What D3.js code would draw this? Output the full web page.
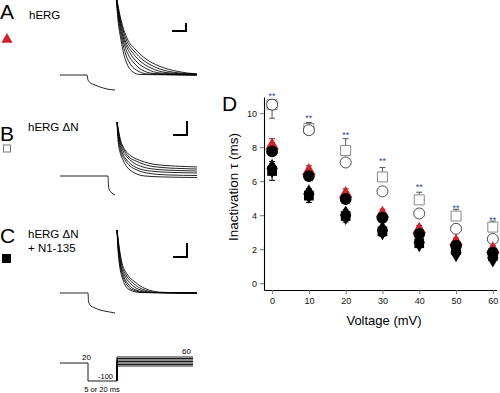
<!DOCTYPE html>
<html>
<head>
<meta charset="utf-8">
<script src="https://cdn.jsdelivr.net/npm/d3@7"></script>
<style>
body { margin: 0; background: #fff; }
svg { display: block; font-family: "Liberation Sans", Arial, sans-serif; }
</style>
</head>
<body>
<div class="graph"></div>
<script>
// ---- panel D: inactivation time constants (ms) vs voltage (mV)
var voltages = [0, 10, 20, 30, 40, 50, 60];
var yTicks = [0, 2, 4, 6, 8, 10];
var hergTri = [8.1, 6.6, 5.25, 4.1, 3.15, 2.45, 2.0];
var hergTriErr = [0.4, 0.3, 0.3, 0.25, 0.25, 0.2, 0.2];
var hergCircle = [7.75, 6.3, 4.95, 3.85, 2.9, 2.2, 1.8];
var dnSquare = [10.5, 9.1, 7.8, 6.25, 4.9, 3.95, 3.3];
var dnSquareErr = [0, 0.35, 0.7, 0.55, 0.45, 0.4, 0.35];
var dnCircle = [10.5, 9.0, 7.1, 5.4, 4.1, 3.2, 2.6];
var dnCircleErr = [0.8, 0, 0, 0, 0, 0, 0];
var n1Square = [6.6, 5.15, 3.95, 3.05, 2.35, 1.95, 1.6];
var n1Err = [0.55, 0.4, 0.35, 0.3, 0.2, 0.2, 0.2];
var n1Diamond = [6.75, 5.25, 4.0, 3.1, 2.4, 1.8, 1.5];
var starLevels = [11.05, 9.75, 8.8, 7.25, 5.7, 4.5, 3.8];

// ---- current traces, [time ms, current nA]
var preA = [[0, 0], [27, 0], [28, -0.5], [30, -0.75], [35, -1.0], [40, -1.2], [47, -1.4], [55, -1.5]];
var decayA = [
  [[56, 8], [58, 5.5], [61, 3.5], [64, 2.0], [68, 0.9], [73, 0.3], [80, 0.05], [137, 0]],
  [[56, 8], [58.5, 5.5], [62, 3.5], [66, 2.0], [71, 1.0], [78, 0.4], [88, 0.1], [137, 0]],
  [[56, 8], [59, 5.5], [63, 3.5], [68, 2.1], [74, 1.2], [82, 0.5], [94, 0.15], [137, 0]],
  [[56, 8], [59.5, 5.5], [64, 3.5], [70, 2.2], [77, 1.3], [87, 0.6], [100, 0.2], [137, 0.05]],
  [[56, 8], [60, 5.5], [65, 3.5], [72, 2.3], [80, 1.4], [91, 0.7], [106, 0.25], [137, 0.05]],
  [[56, 8], [60.5, 5.5], [66, 3.6], [74, 2.4], [83, 1.5], [95, 0.8], [112, 0.3], [137, 0.1]],
  [[56, 8], [61, 5.5], [67, 3.7], [76, 2.5], [86, 1.6], [99, 0.9], [118, 0.35], [137, 0.1]]
];
var preB = [[0, 0], [48, 0], [48.5, -1.0], [49, -1.3], [51, -1.6], [55, -1.9]];
var decayB = [
  [[57, 5.4], [58, 3.6], [60, 2.4], [63, 1.6], [67, 0.9], [73, 0.4], [85, 0], [105, -0.1], [137, -0.15]],
  [[57, 5.4], [58.5, 3.6], [61, 2.4], [65, 1.6], [70, 1.0], [77, 0.6], [90, 0.25], [110, 0.1], [137, 0.05]],
  [[57, 5.4], [59, 3.6], [62, 2.4], [66, 1.7], [72, 1.1], [80, 0.7], [95, 0.45], [115, 0.35], [137, 0.3]],
  [[57, 5.4], [59.5, 3.6], [63, 2.5], [68, 1.8], [74, 1.3], [83, 0.9], [98, 0.65], [118, 0.55], [137, 0.5]],
  [[57, 5.4], [60, 3.6], [64, 2.6], [69, 1.9], [76, 1.5], [86, 1.1], [102, 0.85], [120, 0.75], [137, 0.7]],
  [[57, 5.4], [60.5, 3.6], [65, 2.6], [71, 2.0], [79, 1.6], [90, 1.25], [106, 1.05], [125, 0.95], [137, 0.9]]
];
var preC = [[0, 0], [28, 0], [28.5, -0.8], [30, -1.2], [35, -1.5], [40, -1.7], [47, -1.85], [55, -2.0]];
var decayC = [
  [[57, 6.3], [58, 4.3], [59.5, 2.8], [62, 1.6], [65, 0.8], [70, 0.3], [80, 0.05], [137, 0]],
  [[57, 6.3], [58.3, 4.3], [60, 2.8], [63, 1.6], [67, 0.8], [73, 0.3], [85, 0.05], [137, 0]],
  [[57, 6.3], [58.6, 4.3], [60.5, 2.8], [64, 1.6], [69, 0.8], [76, 0.3], [90, 0.05], [137, 0]],
  [[57, 6.3], [59, 4.3], [61, 2.8], [65, 1.7], [71, 0.9], [79, 0.35], [94, 0.05], [137, 0]],
  [[57, 6.3], [59.3, 4.3], [61.5, 2.9], [66, 1.8], [73, 1.0], [82, 0.4], [98, 0.05], [137, 0]],
  [[57, 6.3], [59.6, 4.3], [62, 3.0], [67, 1.9], [75, 1.1], [85, 0.45], [102, 0.07], [137, 0]]
];

// ---- voltage protocol, [time ms, mV]
var protocolPre = [[0, 20], [28, 20], [28, -100], [57, -100]];
var testSteps = [0, 10, 20, 30, 40, 50, 60];
var protocolEnd = 133;

var width = 500;
var height = 393;

var svg = d3.select(".graph").append("svg")
  .attr("width", width)
  .attr("height", height);

var t = d3.scaleLinear().domain([0, 140]).range([60, 200]);

// one current scale per trace panel (10 px per nA, zero at the holding level)
function currentScale(zeroY) {
  return d3.scaleLinear().domain([0, 1]).range([zeroY, zeroY - 10]);
}
var yA = currentScale(75);
var yB = currentScale(176);
var yC = currentScale(293);

function drawTraces(pre, decays, y) {
  var line = d3.line()
    .x(d => t(d[0]))
    .y(d => y(d[1]))
    .curve(d3.curveMonotoneX);
  svg.append("path")
    .datum(pre)
    .attr("fill", "none")
    .attr("stroke", "#000")
    .attr("stroke-width", 0.85)
    .attr("d", line);
  svg.append("g").selectAll("path")
    .data(decays)
    .enter().append("path")
    .attr("fill", "none")
    .attr("stroke", "#000")
    .attr("stroke-width", 0.85)
    .attr("d", line);
}

function scaleBar(y, tEnd, iBase, ms, nA) {
  svg.append("path")
    .attr("fill", "none")
    .attr("stroke", "#000")
    .attr("stroke-width", 2)
    .attr("d", "M" + t(tEnd - ms) + "," + y(iBase) + "H" + t(tEnd) + "V" + y(iBase + nA));
}

drawTraces(preA, decayA, yA);
drawTraces(preB, decayB, yB);
drawTraces(preC, decayC, yC);

scaleBar(yA, 126, 4.4, 14, 0.8);
scaleBar(yB, 127, 4.1, 14, 1.4);
scaleBar(yC, 127, 3.6, 14, 1.4);

// panel letters and labels
function label(txt, x, y, size) {
  return svg.append("text")
    .attr("x", x)
    .attr("y", y)
    .attr("font-size", size)
    .attr("fill", "#000")
    .text(txt);
}
label("A", 0, 19, 21);
label("B", 0, 141, 21);
label("C", 0, 243, 21);
label("hERG", 29, 19, 11.5);
label("hERG \u0394N", 28, 131, 11.5);
label("hERG \u0394N", 28, 238, 11.5);
label("+ N1-135", 28, 252, 11.5);

svg.append("path")
  .attr("transform", "translate(7,39.5)")
  .attr("d", d3.symbol().type(d3.symbolTriangle).size(55))
  .attr("fill", "#c8262b");
svg.append("rect")
  .attr("x", 3.5).attr("y", 145).attr("width", 7).attr("height", 7)
  .attr("fill", "#fff").attr("stroke", "#777").attr("stroke-width", 1);
svg.append("rect")
  .attr("x", 2).attr("y", 254).attr("width", 9).attr("height", 9)
  .attr("fill", "#000");

// voltage protocol
var v = d3.scaleLinear().domain([-100, 20]).range([381, 363]);
var protoLine = d3.line().x(d => t(d[0])).y(d => v(d[1]));
svg.append("path")
  .datum(protocolPre)
  .attr("fill", "none")
  .attr("stroke", "#000")
  .attr("stroke-width", 0.9)
  .attr("d", protoLine);
svg.append("g").selectAll("path")
  .data(testSteps)
  .enter().append("path")
  .attr("fill", "none")
  .attr("stroke", "#000")
  .attr("stroke-width", 0.9)
  .attr("d", d => protoLine([[57, -100], [57, d], [protocolEnd, d]]));

svg.append("text").attr("x", t(22)).attr("y", v(20) - 3)
  .attr("font-size", 8).text("20");
svg.append("text").attr("x", t(122)).attr("y", v(60) - 3)
  .attr("font-size", 8).text("60");
svg.append("text").attr("x", t(38)).attr("y", v(-100) - 2)
  .attr("font-size", 7.5).text("-100");
svg.append("text").attr("x", t(42)).attr("y", 392)
  .attr("font-size", 7.5).attr("text-anchor", "middle").text("5 or 20 ms");

// ---- panel D
var x = d3.scaleLinear().domain([-2.2, 61]).range([264, 496.5]);
var y = d3.scaleLinear().domain([-0.4, 10.95]).range([290, 97]);

var xAxisGroup = svg.append("g")
  .attr("transform", "translate(0,290)");
xAxisGroup.call(d3.axisBottom(x).tickValues(voltages).tickSize(4).tickSizeOuter(0).tickPadding(4));

var yAxisGroup = svg.append("g")
  .attr("transform", "translate(264,0)");
yAxisGroup.call(d3.axisLeft(y).tickValues(yTicks).tickSize(4).tickSizeOuter(0).tickPadding(3));

svg.selectAll(".tick text").attr("font-size", 9).attr("font-family", "Liberation Sans, Arial, sans-serif").attr("fill", "#111");
svg.selectAll(".tick line").attr("stroke", "#777");
svg.selectAll(".domain").attr("stroke", "#000").attr("stroke-width", 1.1);

svg.append("text")
  .attr("x", 384)
  .attr("y", 325)
  .attr("font-size", 13)
  .attr("text-anchor", "middle")
  .text("Voltage (mV)");

svg.append("text")
  .attr("transform", "translate(238,187) rotate(-90)")
  .attr("font-size", 13.5)
  .attr("text-anchor", "middle")
  .text("Inactivation \u03c4 (ms)");

label("D", 222, 111, 21);

// dir: 1 = bar above the mean, -1 = below
function errorBars(vals, errs, color, dir) {
  var g = svg.append("g").attr("stroke", color).attr("stroke-width", 1).attr("fill", "none");
  g.selectAll("path")
    .data(voltages.filter((d, i) => errs[i] > 0))
    .enter().append("path")
    .attr("d", function (d) {
      var i = voltages.indexOf(d);
      var cx = x(d), mid = y(vals[i]), end = y(vals[i] + dir * errs[i]);
      return "M" + cx + "," + mid + "V" + end +
        "M" + (cx - 3) + "," + end + "H" + (cx + 3);
    });
}

function markers(vals, type, size, fill, stroke, sw) {
  svg.append("g").selectAll("path")
    .data(voltages)
    .enter().append("path")
    .attr("transform", (d, i) => "translate(" + x(d) + "," + y(vals[i]) + ")")
    .attr("d", d3.symbol().type(type).size(size))
    .attr("fill", fill)
    .attr("stroke", stroke)
    .attr("stroke-width", sw);
}

errorBars(dnSquare, dnSquareErr, "#555", 1);
errorBars(dnCircle, dnCircleErr, "#555", -1);
markers(dnSquare, d3.symbolSquare, 100, "#fff", "#888", 1);
markers(dnCircle, d3.symbolCircle, 95, "#fff", "#222", 0.8);

errorBars(hergTri, hergTriErr, "#8b1a1e", 1);
markers(hergTri, d3.symbolTriangle, 80, "#c8262b", "none", 0);
markers(hergCircle, d3.symbolCircle, 110, "#000", "none", 0);

errorBars(n1Square, n1Err, "#000", 1);
errorBars(n1Square, n1Err, "#000", -1);
markers(n1Diamond, d3.symbolDiamond, 110, "#000", "none", 0);
markers(n1Square, d3.symbolSquare, 95, "#000", "none", 0);

svg.append("g").selectAll("text")
  .data(voltages)
  .enter().append("text")
  .attr("x", d => x(d))
  .attr("y", (d, i) => y(starLevels[i]) + 4)
  .attr("text-anchor", "middle")
  .attr("font-size", 9)
  .attr("fill", "#33448f")
  .text("**");
</script>
</body>
</html>
